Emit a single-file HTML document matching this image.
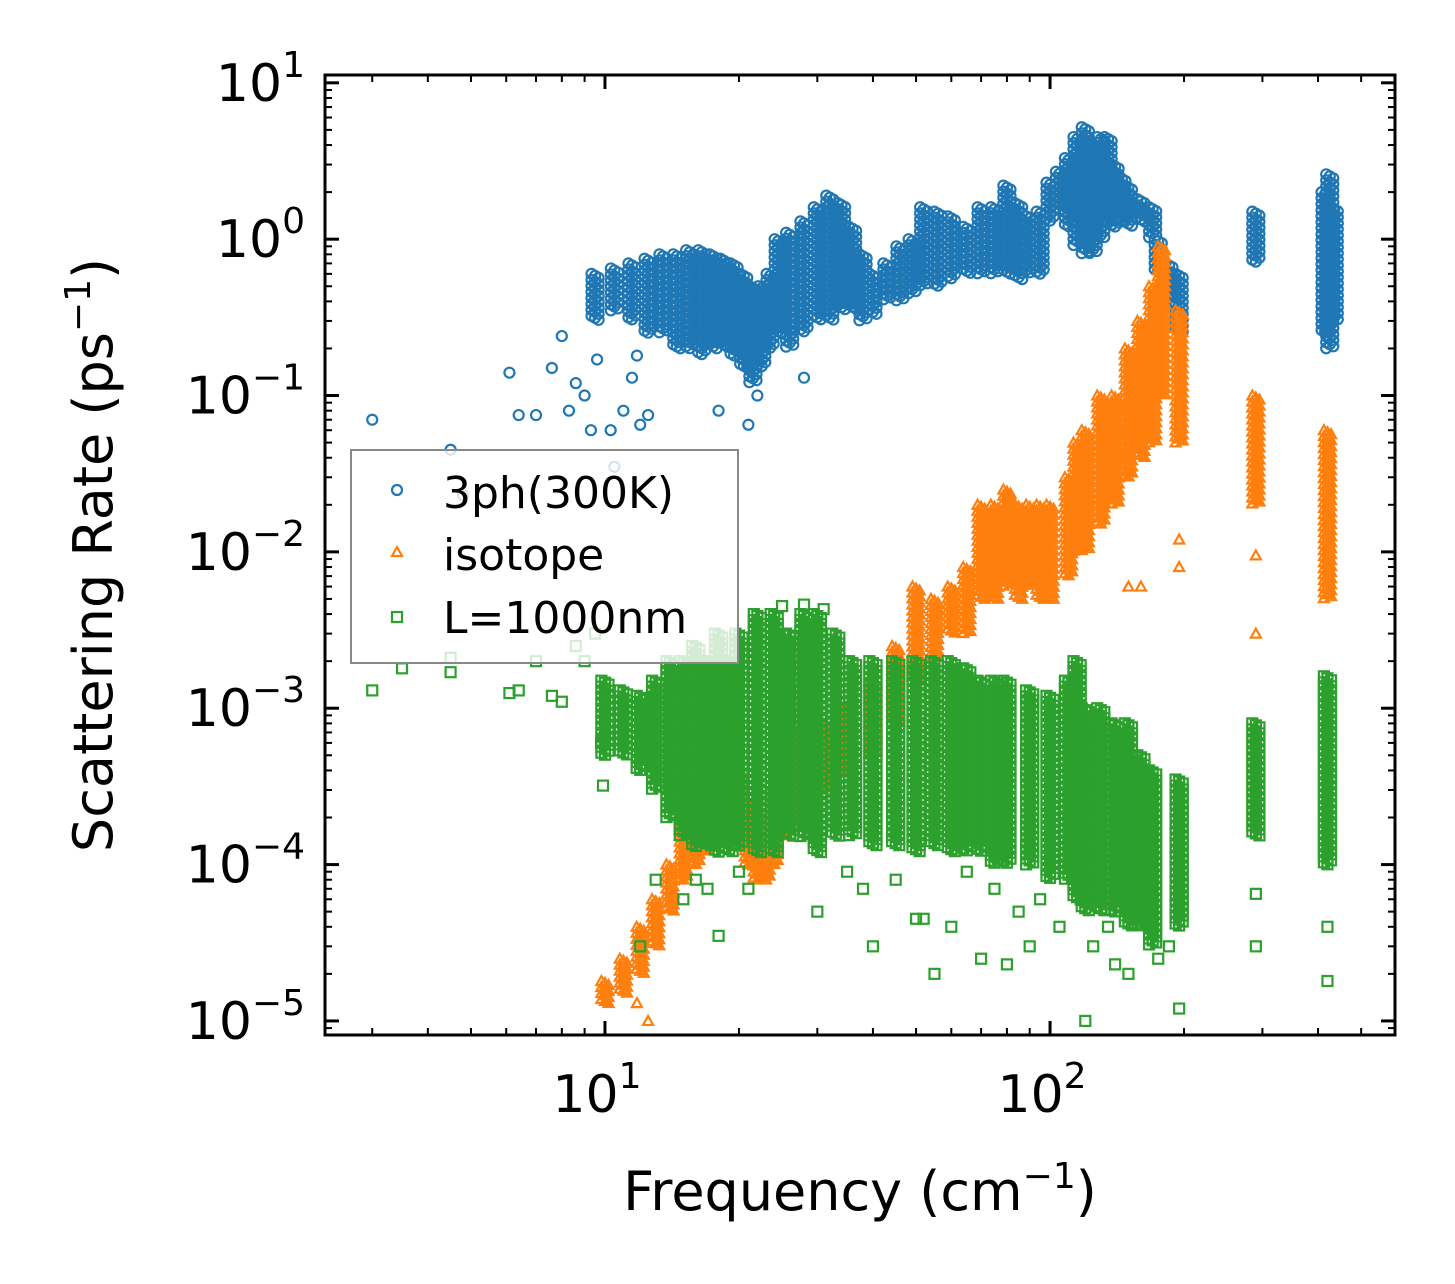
<!DOCTYPE html>
<html><head><meta charset="utf-8"><style>
html,body{margin:0;padding:0;background:#fff;}
svg{display:block;font-family:"DejaVu Sans","Liberation Sans",sans-serif;}
</style></head><body>
<svg id="chart" width="1455" height="1284" viewBox="0 0 1455 1284" xmlns="http://www.w3.org/2000/svg">
<g id="marks"></g>
<g id="axes"></g>
<text x="860" y="1210" font-size="54" text-anchor="middle">Frequency (cm<tspan font-size="36" dy="-22">−1</tspan><tspan dy="22">)</tspan></text>
<text transform="translate(112,555) rotate(-90)" font-size="54" text-anchor="middle">Scattering Rate (ps<tspan font-size="36" dy="-22">−1</tspan><tspan dy="22">)</tspan></text>
<g id="legend">
<rect x="351" y="450" width="387" height="213" fill="#fff" fill-opacity="0.8" stroke="#888" stroke-width="2"/>
<circle cx="397" cy="490" r="5" fill="none" stroke="#1f77b4" stroke-width="2.2"/>
<text x="443" y="508" font-size="44">3ph(300K)</text>
<polygon points="397,547 402,556 392,556" fill="none" stroke="#ff7f0e" stroke-width="2.2"/>
<text x="443" y="570" font-size="44">isotope</text>
<rect x="392" y="612" width="10" height="10" fill="none" stroke="#2ca02c" stroke-width="2.2"/>
<text x="443" y="633" font-size="44">L=1000nm</text>
</g>
</svg>
<script>
// axis domain (log10)
const xDomain=[0.371,2.775];
const yDomain=[-5.09,1.05];
const xTickValues=[10,100];
const xTickLabels=["10","10"];
const xTickExps=["1","2"];
const yTickValues=[1e1,1e0,1e-1,1e-2,1e-3,1e-4,1e-5];
const yTickExps=["1","0","−1","−2","−3","−4","−5"];
// 3ph dense clusters: [freq, low, high]
const blueRanges=[[9.5,0.3,0.6],[10.5,0.35,0.65],[11.5,0.3,0.7],[12.5,0.25,0.75],[13.5,0.25,0.8],[14.5,0.2,0.8],[15.5,0.2,0.85],[16.5,0.18,0.85],[17.5,0.2,0.8],[18.5,0.2,0.75],[19.5,0.18,0.7],[20.5,0.15,0.6],[21.5,0.12,0.5],[22.5,0.15,0.5],[23.5,0.2,0.6],[24.5,0.25,1.0],[26,0.2,1.1],[28,0.25,1.3],[30,0.3,1.6],[32,0.3,1.9],[34,0.35,1.7],[36,0.35,1.2],[38,0.3,0.8],[40,0.33,0.6],[43,0.4,0.7],[46,0.4,0.9],[49,0.45,1.0],[52,0.5,1.6],[56,0.5,1.5],[60,0.55,1.4],[65,0.6,1.2],[70,0.6,1.6],[75,0.6,1.6],[80,0.6,2.2],[85,0.55,1.7],[90,0.6,1.4],[95,0.6,1.5],[100,1.3,2.3],[105,1.5,2.7],[110,1.2,3.3],[115,0.9,4.5],[120,0.8,5.2],[125,0.8,4],[130,1,4.5],[135,1.2,4.5],[140,1.2,3],[145,1.3,2.5],[150,1.2,2.2],[160,1.3,1.8],[170,1,1.6],[175,0.6,1.0],[185,0.4,0.7],[195,0.25,0.6],[290,0.7,1.5],[415,0.25,2.0],[425,0.2,2.6],[435,0.3,1.6]];
const bluePoints=[[3,0.07],[4.5,0.045],[6.1,0.14],[6.4,0.075],[7,0.075],[7.6,0.15],[8,0.24],[8.3,0.08],[8.6,0.12],[9,0.1],[9.3,0.06],[10.3,0.06],[10.5,0.035],[11,0.08],[11.5,0.13],[12,0.065],[12.5,0.075],[18,0.08],[21,0.065],[22,0.1],[28,0.13],[9.6,0.17],[11.8,0.18],[4.8,0.023]];
const orangeRanges=[[10,1.3e-5,1.8e-5],[11,1.5e-5,2.5e-5],[12,2e-5,4e-5],[13,3e-5,6e-5],[14,5e-5,1e-4],[15,8e-5,2e-4],[16,1e-4,3e-4],[17,1.2e-4,4e-4],[18,1.5e-4,5e-4],[19,1.8e-4,6e-4],[20,1.5e-4,4e-4],[21,1e-4,2.5e-4],[22,8e-5,2e-4],[23,8e-5,2e-4],[24,1e-4,3e-4],[25,1.5e-4,5e-4],[27,2e-4,7e-4],[29,1.5e-4,5e-4],[31,3e-4,8e-4],[35,4e-4,1e-3],[40,5e-4,1.5e-3],[45,8e-4,2.5e-3],[50,1.5e-3,6e-3],[55,2e-3,5e-3],[60,3e-3,6e-3],[65,3e-3,8e-3],[70,5e-3,2e-2],[75,5e-3,2e-2],[80,6e-3,2.5e-2],[85,5e-3,2e-2],[90,6e-3,2e-2],[95,5e-3,2e-2],[100,5e-3,2e-2],[110,7e-3,3e-2],[115,1e-2,5e-2],[120,1e-2,6e-2],[130,1.5e-2,0.1],[140,2e-2,0.1],[150,3e-2,0.2],[160,4e-2,0.3],[170,0.05,0.5],[178,0.1,0.9],[195,0.05,0.35],[290,0.02,0.1],[420,0.005,0.06]];
const orangePoints=[[12.5,1e-5],[11.8,1.3e-5],[195,0.008],[290,0.003],[420,0.0008],[420,1.3e-4],[150,0.006],[160,0.006],[290,0.0095],[195,0.012]];
const greenRanges=[[10,5e-4,1.5e-3],[11,5e-4,1.3e-3],[12,4e-4,1.2e-3],[13,3e-4,1.5e-3],[14,2e-4,2e-3],[15,1.5e-4,2e-3],[16,1.3e-4,2.5e-3],[17,1.3e-4,2e-3],[18,1.2e-4,3e-3],[19,1.2e-4,2e-3],[20,1.3e-4,3e-3],[22,1.2e-4,4e-3],[24,1.2e-4,4e-3],[26,1.5e-4,3e-3],[28,1.5e-4,4e-3],[30,1.2e-4,4e-3],[33,1.5e-4,3e-3],[36,1.5e-4,2e-3],[40,1.3e-4,2e-3],[45,1.3e-4,2e-3],[50,1.2e-4,2e-3],[55,1.3e-4,2e-3],[60,1.2e-4,2e-3],[65,1.2e-4,1.8e-3],[70,1.2e-4,1.5e-3],[75,1e-4,1.5e-3],[80,1e-4,1.5e-3],[90,1e-4,1.3e-3],[100,8e-5,1.2e-3],[110,8e-5,1.5e-3],[115,6e-5,2e-3],[120,5e-5,1e-3],[130,5e-5,1e-3],[140,5e-5,8e-4],[150,4e-5,8e-4],[160,4e-5,5e-4],[170,3e-5,4e-4],[195,4e-5,3.5e-4],[290,1.5e-4,8e-4],[420,1e-4,1.6e-3]];
const greenPoints=[[3,1.3e-3],[3.5,1.8e-3],[4.5,1.7e-3],[4.5,2.1e-3],[6.1,1.25e-3],[6.4,1.3e-3],[7,2e-3],[7.6,1.2e-3],[8,1.1e-3],[8.6,2.5e-3],[9,2e-3],[9.5,3e-3],[9.8,6e-4],[9.9,3.2e-4],[13,8e-5],[15,6e-5],[18,3.5e-5],[30,5e-5],[40,3e-5],[55,2e-5],[60,4e-5],[70,2.5e-5],[80,2.3e-5],[90,3e-5],[120,1e-5],[195,1.2e-5],[290,3e-5],[420,1.8e-5],[150,2e-5],[140,2.3e-5],[420,4e-5],[290,6.5e-5],[16,8e-5],[17,7e-5],[20,9e-5],[21,7e-5],[35,9e-5],[38,7e-5],[45,8e-5],[50,4.5e-5],[52,4.5e-5],[65,9e-5],[75,7e-5],[85,5e-5],[95,6e-5],[105,4e-5],[125,3e-5],[135,4e-5],[175,2.5e-5],[185,3e-5],[12,3e-5],[25,4.5e-3],[28,4.6e-3],[31,4.3e-3]];

const L=325,R=1395,T=75,B=1035;
const NS="http://www.w3.org/2000/svg";
function xS(v){return L+(Math.log10(v)-xDomain[0])/(xDomain[1]-xDomain[0])*(R-L);}
function yS(v){return B-(Math.log10(v)-yDomain[0])/(yDomain[1]-yDomain[0])*(B-T);}
const marks=document.getElementById('marks');
const axes=document.getElementById('axes');
function mk(tag,attrs,parent){const e=document.createElementNS(NS,tag);for(const k in attrs)e.setAttribute(k,attrs[k]);parent.appendChild(e);return e;}
function marker(kind,px,py,g){
  let e;
  if(kind==='c'){e=mk('circle',{cx:px,cy:py,r:5},g);}
  else if(kind==='t'){e=mk('polygon',{points:`${px},${py-5} ${px+5},${py+4} ${px-5},${py+4}`},g);}
  else {e=mk('rect',{x:px-5,y:py-5,width:10,height:10},g);}
  return e;
}
function drawSeries(name,kind,color,ranges,points){
  const g=mk('g',{fill:'none',stroke:color,'stroke-width':2.2},marks);
  
  
  ranges.forEach(([f,lo,hi])=>{
    const y1=yS(hi),y2=yS(lo);
    [-1,0,1].forEach((c,ci)=>{
      const px=xS(f*Math.pow(10,c*0.008));
      for(let py=y1+ci*2;py<=y2;py+=6){
        const e=marker(kind,px,py,g);
        
        
      }
    });
  });
  points.forEach(([f,v])=>{
    const e=marker(kind,xS(f),yS(v),g);
    
    
  });
}
drawSeries('3ph','c','#1f77b4',blueRanges,bluePoints);
drawSeries('isotope','t','#ff7f0e',orangeRanges,orangePoints);
drawSeries('boundary','s','#2ca02c',greenRanges,greenPoints);

// frame
const fr=mk('rect',{x:L,y:T,width:R-L,height:B-T,fill:'none',stroke:'#000','stroke-width':3},axes);


// x ticks
for(let d=0;d<=3;d++){for(let m=1;m<=9;m++){const v=m*Math.pow(10,d);const lv=Math.log10(v);if(lv<xDomain[0]||lv>xDomain[1])continue;const px=xS(v);const len=m===1?14:7;
 const a=mk('line',{x1:px,x2:px,y1:B,y2:B-len,stroke:'#000','stroke-width':m===1?3:2},axes);
 const b=mk('line',{x1:px,x2:px,y1:T,y2:T+len,stroke:'#000','stroke-width':m===1?3:2},axes);}}
xTickValues.forEach((v,i)=>{const t=mk('text',{x:xS(v)-8,y:1112,'font-size':52,'text-anchor':'middle'},axes);t.textContent=xTickLabels[i];
 const s=mk('tspan',{'font-size':36,dy:-24},t);s.textContent=xTickExps[i];
 });
// y ticks
for(let d=-6;d<=1;d++){for(let m=1;m<=9;m++){const v=m*Math.pow(10,d);const lv=Math.log10(v);if(lv<yDomain[0]||lv>yDomain[1])continue;const py=yS(v);const len=m===1?14:7;
 const a=mk('line',{x1:L,x2:L+len,y1:py,y2:py,stroke:'#000','stroke-width':m===1?3:2},axes);
 const b=mk('line',{x1:R,x2:R-len,y1:py,y2:py,stroke:'#000','stroke-width':m===1?3:2},axes);}}
yTickValues.forEach((v,i)=>{const t=mk('text',{x:305,y:yS(v)+18,'font-size':52,'text-anchor':'end'},axes);
 const a=mk('tspan',{},t);a.textContent='10';
 const s=mk('tspan',{'font-size':36,dy:-24},t);s.textContent=yTickExps[i];
 });
</script>
</body></html>
